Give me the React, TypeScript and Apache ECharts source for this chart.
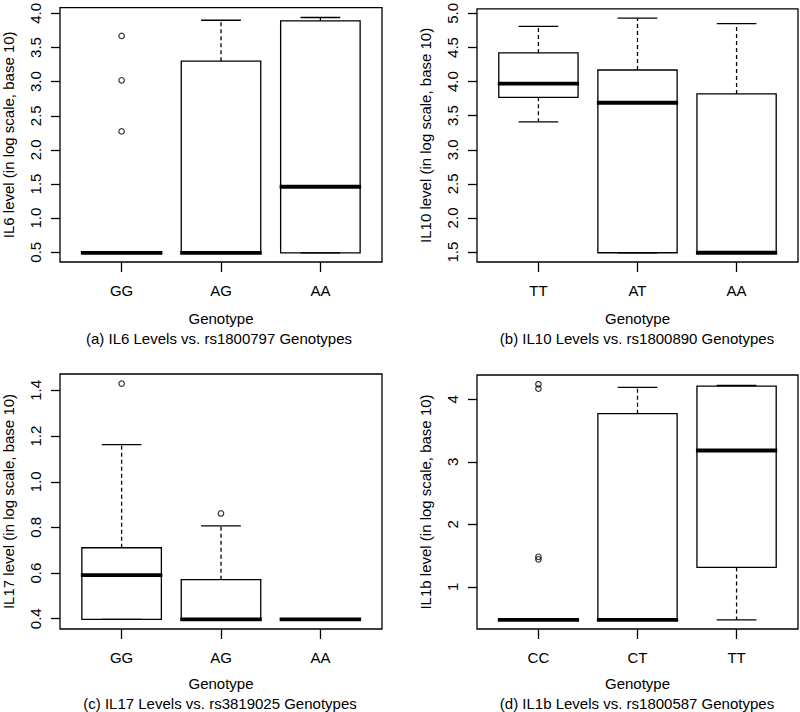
import React, { useEffect, useRef } from "react";
import * as echarts from "echarts";

// ---- Data ----
// Each stat row: [whiskerLow, Q1, median, Q3, whiskerHigh]
const catsA = ["GG", "AG", "AA"];
const statsA = [
  [0.49, 0.49, 0.49, 0.49, 0.49],
  [0.49, 0.49, 0.49, 3.3, 3.9],
  [0.49, 0.49, 1.46, 3.89, 3.94],
];
const outliersA = [
  [1, 2.27],
  [1, 3.02],
  [1, 3.67],
];
const ticksA = [0.5, 1.0, 1.5, 2.0, 2.5, 3.0, 3.5, 4.0];

const catsB = ["TT", "AT", "AA"];
const statsB = [
  [3.41, 3.77, 3.97, 4.42, 4.81],
  [1.49, 1.49, 3.69, 4.17, 4.93],
  [1.49, 1.49, 1.49, 3.82, 4.85],
];
const outliersB: number[][] = [];
const ticksB = [1.5, 2.0, 2.5, 3.0, 3.5, 4.0, 4.5, 5.0];

const catsC = ["GG", "AG", "AA"];
const statsC = [
  [0.397, 0.397, 0.591, 0.711, 1.163],
  [0.397, 0.397, 0.397, 0.571, 0.807],
  [0.397, 0.397, 0.397, 0.397, 0.397],
];
const outliersC = [
  [1, 1.43],
  [2, 0.861],
];
const ticksC = [0.4, 0.6, 0.8, 1.0, 1.2, 1.4];

const catsD = ["CC", "CT", "TT"];
const statsD = [
  [0.47, 0.47, 0.47, 0.47, 0.47],
  [0.47, 0.47, 0.47, 3.77, 4.19],
  [0.47, 1.31, 3.18, 4.21, 4.22],
];
const outliersD = [
  [1, 4.24],
  [1, 4.17],
  [1, 1.48],
  [1, 1.44],
];
const ticksD = [1, 2, 3, 4];

const yNames = [
  "IL6 level (in log scale, base 10)",
  "IL10 level (in log scale, base 10)",
  "IL17 level (in log scale, base 10)",
  "IL1b level (in log scale, base 10)",
];
const captions = [
  "(a) IL6 Levels vs. rs1800797 Genotypes",
  "(b) IL10 Levels vs. rs1800890 Genotypes",
  "(c) IL17 Levels vs. rs3819025 Genotypes",
  "(d) IL1b Levels vs. rs1800587 Genotypes",
];

const FONT = "Liberation Sans";
const FS = 15;
const LW = 1.3;

type Panel = {
  cats: string[];
  stats: number[][];
  outliers: number[][];
  ticks: number[];
  yMin: number;
  yMax: number;
  decimals: number;
  grid: { left: number; top: number; width: number; height: number };
  xNameGap: number;
  caption: { x: number; y: number };
};

const panels: Panel[] = [
  {
    cats: catsA, stats: statsA, outliers: outliersA, ticks: ticksA,
    yMin: 0.357, yMax: 4.085, decimals: 1,
    grid: { left: 59, top: 6, width: 323, height: 256 },
    xNameGap: 49, caption: { x: 219, y: 338 },
  },
  {
    cats: catsB, stats: statsB, outliers: outliersB, ticks: ticksB,
    yMin: 1.354, yMax: 5.068, decimals: 1,
    grid: { left: 477, top: 6, width: 321, height: 256 },
    xNameGap: 49, caption: { x: 637, y: 338 },
  },
  {
    cats: catsC, stats: statsC, outliers: outliersC, ticks: ticksC,
    yMin: 0.355, yMax: 1.472, decimals: 1,
    grid: { left: 59, top: 374, width: 323, height: 255 },
    xNameGap: 47, caption: { x: 220, y: 703 },
  },
  {
    cats: catsD, stats: statsD, outliers: outliersD, ticks: ticksD,
    yMin: 0.325, yMax: 4.388, decimals: 0,
    grid: { left: 477, top: 375, width: 321, height: 254 },
    xNameGap: 47, caption: { x: 637, y: 703 },
  },
];

function renderBox(params: any, api: any) {
  const x = api.value(0);
  const lo = api.value(1);
  const q1 = api.value(2);
  const med = api.value(3);
  const q3 = api.value(4);
  const hi = api.value(5);
  const halfW = api.size([0.8, 0])[0] / 2;
  const capHalf = halfW / 2;
  const pLo = api.coord([x, lo]);
  const pQ1 = api.coord([x, q1]);
  const pMed = api.coord([x, med]);
  const pQ3 = api.coord([x, q3]);
  const pHi = api.coord([x, hi]);
  const cx = pQ1[0];
  const solid = { stroke: "#000", lineWidth: LW, fill: null };
  const dashed = { stroke: "#000", lineWidth: LW, lineDash: [4, 3], fill: null };
  return {
    type: "group",
    children: [
      { type: "line", shape: { x1: cx, y1: pQ3[1], x2: cx, y2: pHi[1] }, style: dashed },
      { type: "line", shape: { x1: cx, y1: pQ1[1], x2: cx, y2: pLo[1] }, style: dashed },
      { type: "line", shape: { x1: cx - capHalf, y1: pHi[1], x2: cx + capHalf, y2: pHi[1] }, style: solid },
      { type: "line", shape: { x1: cx - capHalf, y1: pLo[1], x2: cx + capHalf, y2: pLo[1] }, style: solid },
      {
        type: "rect",
        shape: { x: cx - halfW, y: pQ3[1], width: 2 * halfW, height: pQ1[1] - pQ3[1] },
        style: { stroke: "#000", lineWidth: LW, fill: "none" },
      },
      {
        type: "line",
        shape: { x1: cx - halfW - 1, y1: pMed[1], x2: cx + halfW + 1, y2: pMed[1] },
        style: { stroke: "#000", lineWidth: 3.8 },
      },
    ],
  };
}

export default function App() {
  const ref = useRef<HTMLDivElement>(null);

  useEffect(() => {
    if (!ref.current) return;
    const chart = echarts.init(ref.current, null, { renderer: "svg" });

    const option: any = {
      animation: false,
      backgroundColor: "#ffffff",
      textStyle: { fontFamily: FONT, color: "#000" },
      grid: panels.map((p) => ({
        ...p.grid,
        show: true,
        borderColor: "#000",
        borderWidth: LW,
        backgroundColor: "transparent",
        containLabel: false,
      })),
      xAxis: panels.map((p, i) => ({
        type: "value",
        gridIndex: i,
        min: 0.38,
        max: 3.62,
        axisLine: { show: false, onZero: false },
        splitLine: { show: false },
        axisTick: {
          show: true,
          length: 10,
          lineStyle: { color: "#000", width: LW },
          customValues: [1, 2, 3],
        },
        axisLabel: {
          customValues: [1, 2, 3],
          formatter: (v: number) => p.cats[Math.round(v) - 1] ?? "",
          margin: 21,
          fontSize: FS,
          fontFamily: FONT,
          color: "#000",
        },
        name: "Genotype",
        nameLocation: "middle",
        nameGap: p.xNameGap,
        nameTextStyle: { fontSize: FS, fontFamily: FONT, color: "#000" },
      })),
      yAxis: panels.map((p, i) => ({
        type: "value",
        gridIndex: i,
        min: p.yMin,
        max: p.yMax,
        axisLine: { show: false, onZero: false },
        splitLine: { show: false },
        axisTick: {
          show: true,
          length: 9,
          lineStyle: { color: "#000", width: LW },
          customValues: p.ticks,
        },
        axisLabel: {
          customValues: p.ticks,
          formatter: (v: number) => v.toFixed(p.decimals),
          rotate: 90,
          margin: 17,
          fontSize: FS,
          fontFamily: FONT,
          color: "#000",
        },
        name: yNames[i],
        nameLocation: "middle",
        nameRotate: 90,
        nameGap: 44,
        nameTextStyle: { fontSize: FS, fontFamily: FONT, color: "#000" },
      })),
      series: [
        ...panels.map((p, i) => ({
          type: "custom",
          xAxisIndex: i,
          yAxisIndex: i,
          renderItem: renderBox,
          encode: { x: 0, y: [1, 2, 3, 4, 5] },
          data: p.stats.map((s, k) => [k + 1, ...s]),
          silent: true,
        })),
        ...panels.map((p, i) => ({
          type: "scatter",
          xAxisIndex: i,
          yAxisIndex: i,
          symbol: "circle",
          symbolSize: 5.5,
          itemStyle: { color: "transparent", borderColor: "#000", borderWidth: 1.2 },
          data: p.outliers,
          silent: true,
        })),
      ],
      graphic: panels.map((p, i) => ({
        type: "text",
        x: p.caption.x,
        y: p.caption.y,
        style: {
          text: captions[i],
          font: `${FS}px "${FONT}"`,
          fill: "#000",
          align: "center",
          verticalAlign: "middle",
          textAlign: "center",
          textVerticalAlign: "middle",
        },
      })),
    };

    chart.setOption(option);
    return () => chart.dispose();
  }, []);

  return (
    <div
      ref={ref}
      style={{ position: "absolute", left: 0, top: 0, width: 800, height: 712, background: "#fff" }}
    />
  );
}
